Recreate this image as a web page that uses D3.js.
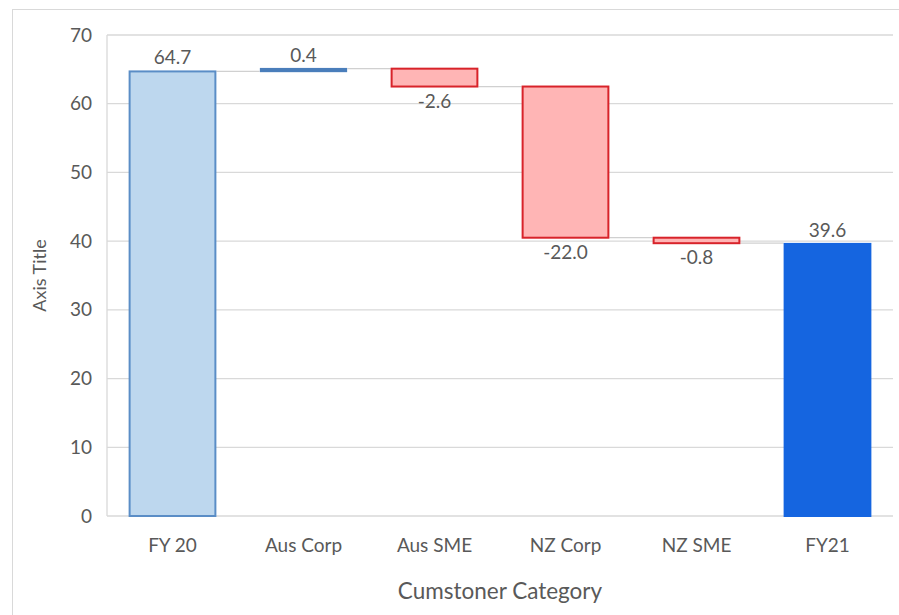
<!DOCTYPE html>
<html><head><meta charset="utf-8">
<script src="https://cdn.jsdelivr.net/npm/d3@7"></script>
<style>body{margin:0;background:#fff}svg{display:block}text{font-family:Lato,"Open Sans",sans-serif}</style>
</head><body><svg id="c" width="899" height="615"></svg>
<script>
const categories = ["FY 20","Aus Corp","Aus SME","NZ Corp","NZ SME","FY21"];
const values = [64.7, 0.4, -2.6, -22.0, -0.8, 39.6];
const kinds = ["total","up","down","down","down","total"];
const labels = ["64.7","0.4","-2.6","-22.0","-0.8","39.6"];
const yTicks = [0,10,20,30,40,50,60,70];

const svg = d3.select("#c");
const m = {l:107, r:6, t:35, b:99};
const W = 899, H = 615;
svg.append("rect").attr("x",12.5).attr("y",9.5).attr("width",W+10).attr("height",H+10)
  .attr("fill","none").attr("stroke","#d9d9d9");

const x = d3.scaleBand().domain(categories).range([m.l, W-m.r]).paddingInner(0.33).paddingOuter(0.165);
const y = d3.scaleLinear().domain([0,70]).range([H-m.b, m.t]);

svg.append("g").selectAll("line").data(yTicks).join("line")
  .attr("x1",m.l).attr("x2",W-m.r).attr("y1",d=>y(d)).attr("y2",d=>y(d))
  .attr("stroke","#d9d9d9").attr("stroke-width",1.3);
svg.append("line").attr("x1",m.l).attr("x2",m.l).attr("y1",y(70)).attr("y2",y(0))
  .attr("stroke","#d9d9d9").attr("stroke-width",1.3);

const ya = svg.append("g").attr("transform",`translate(${m.l},0)`)
  .call(d3.axisLeft(y).tickValues(yTicks).tickSize(0).tickPadding(15));
ya.select(".domain").remove();
ya.selectAll("text").attr("font-size",19).attr("fill","#595959").attr("font-family","Lato,sans-serif");

const xa = svg.append("g").attr("transform",`translate(0,${y(0)})`)
  .call(d3.axisBottom(x).tickSize(0).tickPadding(23));
xa.select(".domain").remove();
xa.selectAll("text").attr("font-size",19).attr("fill","#595959").attr("font-family","Lato,sans-serif");

let run = 0;
const bars = values.map((v,i)=>{
  let lo, hi;
  if (kinds[i]==="total") { lo=0; hi=v; run=v; }
  else { const s=run; run=s+v; lo=Math.min(s,run); hi=Math.max(s,run); }
  return {cat:categories[i], v, lo, hi, end: kinds[i]==="total"?v:run, kind:kinds[i], label:labels[i]};
});

const conn = svg.append("g");
for (let i=0;i<bars.length-1;i++){
  conn.append("line").attr("x1",x(bars[i].cat)+x.bandwidth()).attr("x2",x(bars[i+1].cat))
    .attr("y1",y(bars[i].end)).attr("y2",y(bars[i].end)).attr("stroke","#d0d0d0").attr("stroke-width",1.3);
}

const fill = {total0:"#bdd7ee", up:"#4a7ebb", down:"#ffb5b5", total5:"#1565e0"};
const stroke = {total0:"#5a8dc6", up:"#4a7ebb", down:"#d8232a", total5:"#1565e0"};
const g = svg.append("g");
bars.forEach((b,i)=>{
  const key = b.kind==="total" ? "total"+i : b.kind;
  const h = Math.max(y(b.lo)-y(b.hi), 2);
  g.append("rect").attr("x",x(b.cat)+1).attr("width",x.bandwidth()-2)
    .attr("y",y(b.hi)).attr("height",h)
    .attr("fill",fill[key]).attr("stroke",stroke[key]).attr("stroke-width", b.kind==="up"?1.5:2);
  const above = b.v>=0;
  g.append("text").attr("x",x(b.cat)+x.bandwidth()/2)
    .attr("y", above ? y(b.hi)-7 : y(b.lo)+21)
    .attr("text-anchor","middle").attr("font-size",19).attr("fill","#595959").text(b.label);
});

svg.append("text").attr("x",(m.l+W-m.r)/2).attr("y",599).attr("text-anchor","middle")
  .attr("font-size",22.5).attr("fill","#595959").text("Cumstoner Category");
svg.append("text").attr("transform",`translate(46,${(y(0)+y(70))/2}) rotate(-90)`)
  .attr("text-anchor","middle").attr("font-size",18).attr("fill","#595959").text("Axis Title");
</script></body></html>
